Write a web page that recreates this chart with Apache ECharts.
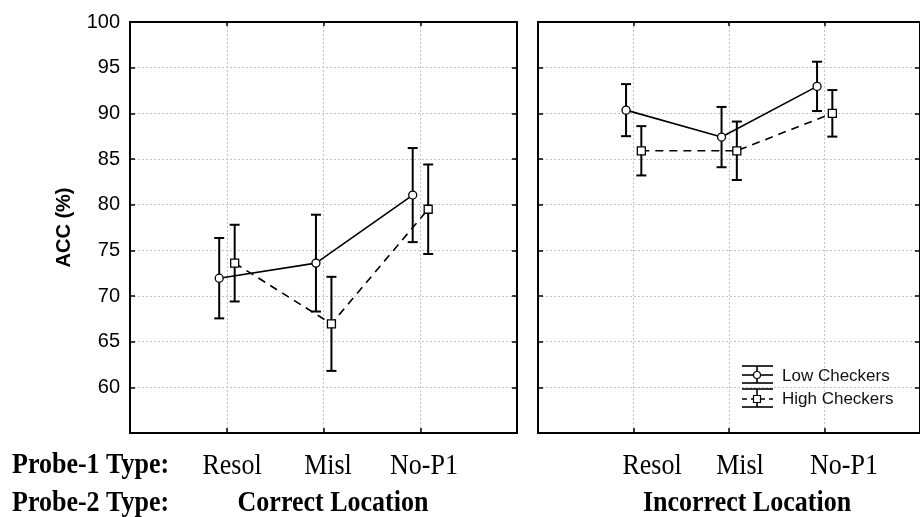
<!DOCTYPE html>
<html>
<head>
<meta charset="utf-8">
<script src="https://cdn.jsdelivr.net/npm/echarts@6/dist/echarts.min.js"></script>
<style>
  html, body { margin: 0; padding: 0; background: #fff; }
  #chart { width: 920px; height: 517px; }
</style>
</head>
<body>
<div id="chart"></div>
<script>
// Probe-1 types (x categories) and Probe-2 panels
const categories = ['Resol', 'Misl', 'No-P1'];
const panels = ['Correct Location', 'Incorrect Location'];
const seriesNames = ['Low Checkers', 'High Checkers'];

// Mean accuracy (%) and error-bar half widths, per panel and group
const correctLow = [71.95, 73.6, 81.05];
const correctLowErr = [4.4, 5.3, 5.15];
const correctHigh = [73.6, 66.95, 79.5];
const correctHighErr = [4.2, 5.15, 4.9];
const incorrectLow = [90.35, 87.4, 92.95];
const incorrectLowErr = [2.85, 3.3, 2.7];
const incorrectHigh = [85.9, 85.9, 90.0];
const incorrectHighErr = [2.7, 3.2, 2.55];

// Labelled y ticks
const yTicks = [60, 65, 70, 75, 80, 85, 90, 95, 100];

const panelData = [
  { low: correctLow, lowErr: correctLowErr, high: correctHigh, highErr: correctHighErr },
  { low: incorrectLow, lowErr: incorrectLowErr, high: incorrectHigh, highErr: incorrectHighErr }
];

// small horizontal dodge so the two groups don't overlap
const LOW_SHIFT = -0.078;
const HIGH_SHIFT = 0.082;

const chart = echarts.init(document.getElementById('chart'));

const gridLeft = [130, 538];
const grids = gridLeft.map(l => ({ left: l, top: 22, width: 387, height: 411, containLabel: false }));

const dotted = { color: '#c4c4c4', width: 1, type: [2, 2] };
const blackLine = { color: '#000', width: 2 };
const tickStyle = { color: '#000', width: 1.5 };

const xAxes = [];
const yAxes = [];
grids.forEach((g, gi) => {
  // bottom (with vertical grid lines) and top (ticks only)
  xAxes.push({
    type: 'value', gridIndex: gi, min: 0, max: 4, interval: 1, position: 'bottom',
    axisLine: { show: true, lineStyle: blackLine, onZero: false },
    axisTick: { show: true, inside: true, length: 5, lineStyle: tickStyle },
    axisLabel: { show: false },
    splitLine: { show: true, lineStyle: dotted }
  });
  xAxes.push({
    type: 'value', gridIndex: gi, min: 0, max: 4, interval: 1, position: 'top',
    axisLine: { show: true, lineStyle: blackLine, onZero: false },
    axisTick: { show: true, inside: true, length: 4, lineStyle: tickStyle },
    axisLabel: { show: false },
    splitLine: { show: false }
  });
  yAxes.push({
    type: 'value', gridIndex: gi, min: 55, max: 100, interval: 5, position: 'left',
    name: gi === 0 ? 'ACC (%)' : '',
    nameLocation: 'middle', nameRotate: 90, nameGap: 56,
    nameTextStyle: { fontFamily: 'Liberation Sans', fontWeight: 'bold', fontSize: 20, color: '#000' },
    axisLine: { show: true, lineStyle: blackLine, onZero: false },
    axisTick: { show: true, inside: true, length: 5, lineStyle: tickStyle },
    axisLabel: {
      show: gi === 0, margin: 10, fontFamily: 'Liberation Sans', fontSize: 20, color: '#000',
      formatter: v => (yTicks.indexOf(v) >= 0 ? String(v) : '')
    },
    splitLine: { show: true, lineStyle: dotted }
  });
  yAxes.push({
    type: 'value', gridIndex: gi, min: 55, max: 100, interval: 5, position: 'right',
    axisLine: { show: true, lineStyle: blackLine, onZero: false },
    axisTick: { show: true, inside: true, length: 5, lineStyle: tickStyle },
    axisLabel: { show: false },
    splitLine: { show: false }
  });
});

function errorBarRender(params, api) {
  const x = api.value(0);
  const lo = api.coord([x, api.value(1)]);
  const hi = api.coord([x, api.value(2)]);
  const w = 5;
  const style = { stroke: '#000', lineWidth: 2 };
  return {
    type: 'group',
    children: [
      { type: 'line', shape: { x1: lo[0], y1: lo[1], x2: hi[0], y2: hi[1] }, style },
      { type: 'line', shape: { x1: lo[0] - w, y1: lo[1], x2: lo[0] + w, y2: lo[1] }, style },
      { type: 'line', shape: { x1: hi[0] - w, y1: hi[1], x2: hi[0] + w, y2: hi[1] }, style }
    ]
  };
}

const series = [];
panelData.forEach((pd, pi) => {
  const xi = pi * 2, yi = pi * 2;
  const groups = [
    { name: seriesNames[0], vals: pd.low, errs: pd.lowErr, shift: LOW_SHIFT, dash: 'solid', symbol: 'circle' },
    { name: seriesNames[1], vals: pd.high, errs: pd.highErr, shift: HIGH_SHIFT, dash: [8, 6], symbol: 'rect' }
  ];
  groups.forEach(g => {
    const pts = categories.map((c, i) => [i + 1 + g.shift, g.vals[i]]);
    series.push({
      type: 'line', name: g.name, xAxisIndex: xi, yAxisIndex: yi, data: pts,
      showSymbol: false, symbol: 'none', z: 2, silent: true, animation: false,
      lineStyle: { color: '#000', width: 1.6, type: g.dash }
    });
    series.push({
      type: 'custom', name: g.name, xAxisIndex: xi, yAxisIndex: yi, z: 3, silent: true, animation: false,
      data: categories.map((c, i) => [i + 1 + g.shift, g.vals[i] - g.errs[i], g.vals[i] + g.errs[i]]),
      encode: { x: 0, y: [1, 2] },
      renderItem: errorBarRender
    });
    series.push({
      type: 'scatter', name: g.name, xAxisIndex: xi, yAxisIndex: yi, z: 4, silent: true, animation: false,
      data: pts, symbol: g.symbol, symbolSize: 8,
      itemStyle: { color: '#fff', borderColor: '#000', borderWidth: 1.3, opacity: 1 }
    });
  });
});

// Legend: error-bar glyphs drawn by hand, inside the right panel
const lgX0 = 742, lgX1 = 773, lgMid = 757;
const lgStroke = { stroke: '#000', lineWidth: 1.6 };
const legendEls = [
  // Low Checkers glyph
  { type: 'line', shape: { x1: lgX0, y1: 366, x2: lgX1, y2: 366 }, style: lgStroke },
  { type: 'line', shape: { x1: lgX0, y1: 383, x2: lgX1, y2: 383 }, style: lgStroke },
  { type: 'line', shape: { x1: lgMid, y1: 366, x2: lgMid, y2: 383 }, style: lgStroke },
  { type: 'line', shape: { x1: lgX0, y1: 375, x2: lgX1, y2: 375 }, style: lgStroke },
  { type: 'circle', shape: { cx: lgMid, cy: 375, r: 3.5 }, style: { fill: '#fff', stroke: '#000', lineWidth: 1.2 } },
  // High Checkers glyph
  { type: 'line', shape: { x1: lgX0, y1: 389, x2: lgX1, y2: 389 }, style: lgStroke },
  { type: 'line', shape: { x1: lgX0, y1: 407, x2: lgX1, y2: 407 }, style: lgStroke },
  { type: 'line', shape: { x1: lgMid, y1: 389, x2: lgMid, y2: 407 }, style: lgStroke },
  { type: 'line', shape: { x1: lgX0, y1: 399, x2: lgX1, y2: 399 }, style: { stroke: '#000', lineWidth: 1.4, lineDash: [5, 4] } },
  { type: 'rect', shape: { x: lgMid - 3.5, y: 395.5, width: 7, height: 7 }, style: { fill: '#fff', stroke: '#000', lineWidth: 1.2 } },
  { type: 'text', x: 782, y: 376, style: { text: seriesNames[0], fontFamily: 'Liberation Sans', fontSize: 17, fill: '#111', textAlign: 'left', align: 'left', textVerticalAlign: 'middle', verticalAlign: 'middle' } },
  { type: 'text', x: 782, y: 399, style: { text: seriesNames[1], fontFamily: 'Liberation Sans', fontSize: 17, fill: '#111', textAlign: 'left', align: 'left', textVerticalAlign: 'middle', verticalAlign: 'middle' } }
].map(e => Object.assign({ z: 100 }, e));

// Factor labels under the panels
function serifText(txt, x, y, bold, alignment) {
  return {
    type: 'text', x, y, scaleY: 1.1, z: 100,
    style: {
      text: txt, fontFamily: 'Liberation Serif', fontSize: 26, fontWeight: bold ? 'bold' : 'normal',
      fill: '#000', textAlign: alignment, align: alignment, textVerticalAlign: 'middle', verticalAlign: 'middle'
    }
  };
}
const row1 = 466, row2 = 504;
const catX = [[232, 328, 424], [652, 740, 844]];
const labelEls = [
  serifText('Probe-1 Type:', 12, row1, true, 'left'),
  serifText('Probe-2 Type:', 12, row2, true, 'left'),
  serifText(panels[0], 333, row2, true, 'center'),
  serifText(panels[1], 747, row2, true, 'center')
];
catX.forEach(xs => xs.forEach((x, i) => labelEls.push(serifText(categories[i], x, row1, false, 'center'))));

chart.setOption({
  animation: false,
  backgroundColor: '#fff',
  grid: grids,
  xAxis: xAxes,
  yAxis: yAxes,
  series,
  graphic: legendEls.concat(labelEls)
});
</script>
</body>
</html>
